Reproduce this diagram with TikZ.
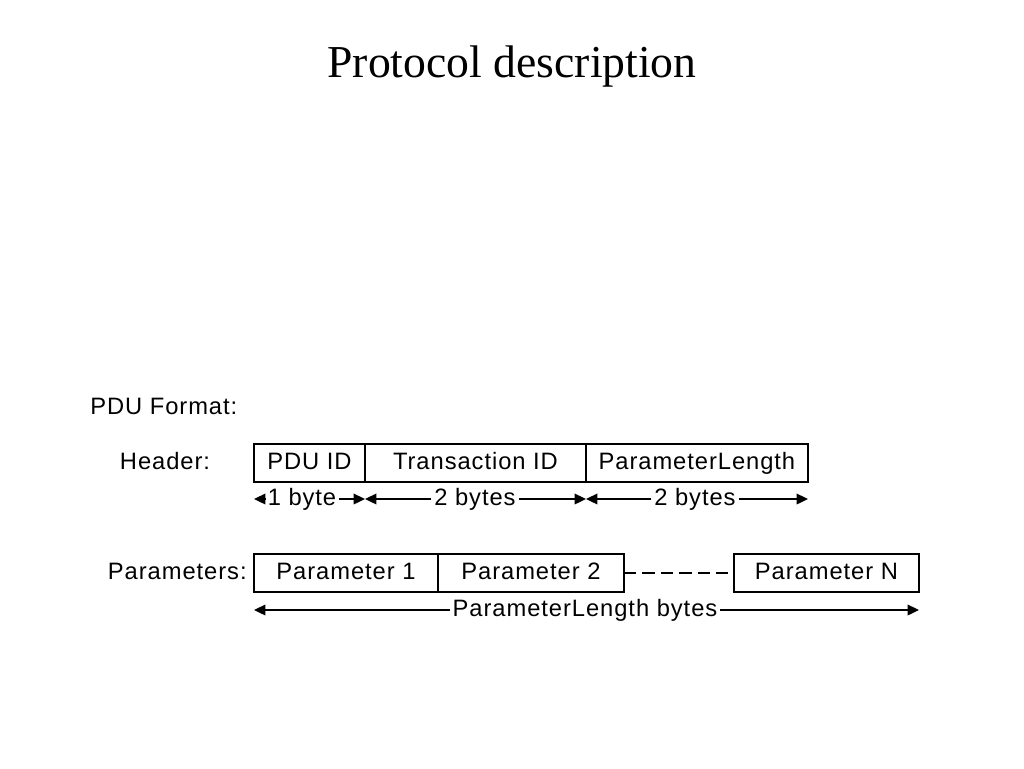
\documentclass[tikz,border=0pt]{standalone}
\usepackage{fontspec}
\setmainfont{Liberation Serif}
\newfontfamily\diagfont[LetterSpace=4]{Liberation Sans}
\usepackage{tikz}
\usetikzlibrary{positioning,arrows.meta}

\tikzset{
    field/.style={draw, line width=1.4pt, outer sep=0pt, inner sep=0pt,
        minimum height=0.75cm, text height=9.5pt, text depth=2.5pt,
        font=\diagfont\fontsize{13.5}{15}\selectfont},
    rowlabel/.style={font=\diagfont\fontsize{13.5}{15}\selectfont, inner sep=0pt,
        text height=9.5pt, text depth=2.5pt},
    span/.style={font=\diagfont\fontsize{13.5}{15}\selectfont, inner sep=1.5pt,
        text height=9.5pt, text depth=2.5pt},
    extent/.style={-{Triangle[length=6.5pt,width=6pt]}, line width=1.1pt},
}

\begin{document}
\begin{tikzpicture}[x=0.02cm, y=-0.02cm]
    \path[use as bounding box] (0,0) rectangle (1024,768);

    % title
    \node (title) at (512,67) {\fontsize{26}{30}\selectfont Protocol description};

    \node[rowlabel, anchor=west] (format) at (90,408) {PDU Format:};

    % header row
    \node[rowlabel] (header) at (165,463) {Header:};
    \node[field, minimum width=2.22cm, anchor=west] (pduid) at (254,463) {PDU ID};
    \node[field, minimum width=4.42cm, right=0pt of pduid] (transid) {Transaction ID};
    \node[field, minimum width=4.44cm, right=0pt of transid] (parlen) {ParameterLength};

    \coordinate (h0) at (254,499);
    \coordinate (h1) at (365,499);
    \coordinate (h2) at (586,499);
    \coordinate (h3) at (808,499);
    \node[span] (onebyte) at (302,499) {1 byte};
    \node[span] (twobytesa) at (475,499) {2 bytes};
    \node[span] (twobytesb) at (695,499) {2 bytes};
    \draw[extent] (onebyte) -- (h0);
    \draw[extent] (onebyte) -- (h1);
    \draw[extent] (twobytesa) -- (h1);
    \draw[extent] (twobytesa) -- (h2);
    \draw[extent] (twobytesb) -- (h2);
    \draw[extent] (twobytesb) -- (h3);

    % parameters row
    \node[rowlabel, anchor=east] (params) at (247,573) {Parameters:};
    \node[field, minimum width=3.68cm, anchor=west] (parone) at (254,573) {Parameter 1};
    \node[field, minimum width=3.72cm, right=0pt of parone] (partwo) {Parameter 2};
    \node[field, minimum width=3.70cm, anchor=west] (parn) at (734,573) {Parameter N};
    \draw[line width=1.2pt, dash pattern=on 7pt off 3.5pt] (partwo) -- (parn);

    \coordinate (p0) at (254,610);
    \coordinate (p1) at (919,610);
    \node[span] (totlen) at (585,610) {ParameterLength bytes};
    \draw[extent] (totlen) -- (p0);
    \draw[extent] (totlen) -- (p1);
\end{tikzpicture}
\end{document}
